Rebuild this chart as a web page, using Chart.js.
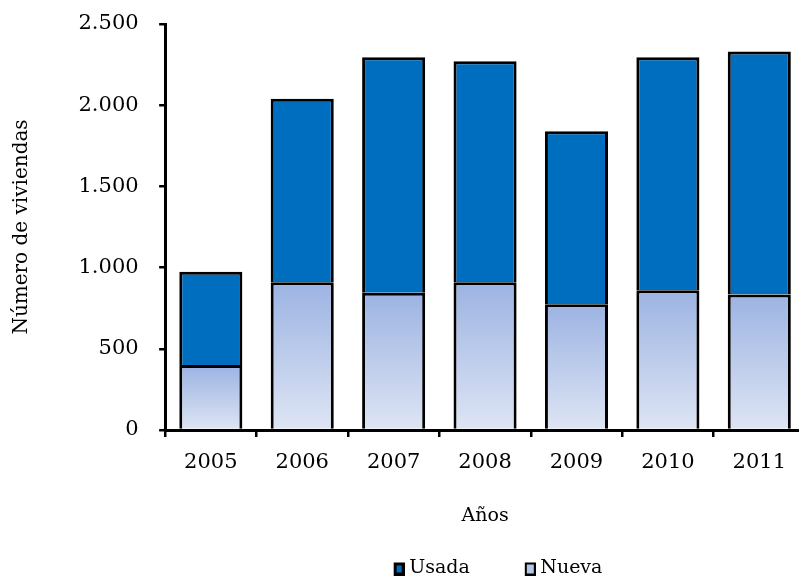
<!DOCTYPE html>
<html>
<head>
<meta charset="utf-8">
<script src="https://cdn.jsdelivr.net/npm/chart.js@4.4.1/dist/chart.umd.min.js"></script>
<style>
html, body { margin: 0; padding: 0; overflow: hidden; background: #fff; }
#wrap { position: relative; width: 808px; height: 588px; }
</style>
</head>
<body>
<div id="wrap"><canvas id="c"></canvas></div>
<script>
const categories = ['2005', '2006', '2007', '2008', '2009', '2010', '2011'];
const nueva = [400, 910, 845, 910, 775, 860, 835];
const usada = [575, 1130, 1450, 1360, 1065, 1435, 1495];
const yTickLabels = ['0', '500', '1.000', '1.500', '2.000', '2.500'];
const seriesNames = ['Nueva', 'Usada'];

const FONT = "'DejaVu Serif', 'Liberation Serif', serif";
const USADA_COLOR = '#006EBF';
const NUEVA_TOP = '#9CB3E2';
const NUEVA_BOTTOM = '#DEE5F4';

function nuevaGradient(context) {
  const chart = context.chart;
  const area = chart.chartArea;
  if (!area || context.type !== 'data' || !chart.scales.y) return '#B4C6EA';
  const y = chart.scales.y;
  const top = y.getPixelForValue(context.parsed.y);
  const bottom = y.getPixelForValue(0);
  if (!isFinite(top) || !isFinite(bottom) || top === bottom) return '#B4C6EA';
  const g = chart.ctx.createLinearGradient(0, top, 0, bottom);
  g.addColorStop(0, NUEVA_TOP);
  g.addColorStop(1, NUEVA_BOTTOM);
  return g;
}

// legend marker: small bordered square placed at the right side of a transparent strip
function legendMarker(fill, border) {
  const c = document.createElement('canvas');
  c.width = 42; c.height = 14;
  const x = c.getContext('2d');
  x.fillStyle = '#000';
  x.fillRect(31, 1, 11, 13);
  x.fillStyle = fill;
  x.fillRect(31 + border, 1 + border, 11 - 2 * border, 13 - 2 * border);
  return c;
}
const markers = [legendMarker('#B4C6EA', 2), legendMarker(USADA_COLOR, 3)];

new Chart(document.getElementById('c'), {
  type: 'bar',
  data: {
    labels: categories,
    datasets: [
      {
        label: seriesNames[0],
        data: nueva,
        backgroundColor: nuevaGradient,
        borderColor: '#000',
        borderWidth: 3,
        borderSkipped: 'start',
        inflateAmount: 0,
        barPercentage: 0.69,
        categoryPercentage: 1
      },
      {
        label: seriesNames[1],
        data: usada,
        backgroundColor: USADA_COLOR,
        borderColor: '#000',
        borderWidth: 3,
        borderSkipped: 'start',
        inflateAmount: 0,
        barPercentage: 0.69,
        categoryPercentage: 1
      }
    ]
  },
  options: {
    responsive: true,
    maintainAspectRatio: false,
    animation: false,
    layout: { padding: { top: 24, right: 3, left: 10, bottom: 0 } },
    plugins: {
      tooltip: { enabled: false },
      legend: {
        position: 'bottom',
        fullSize: false,
        reverse: true,
        labels: {
          font: { family: FONT, size: 19 },
          color: '#000',
          usePointStyle: true,
          pointStyleWidth: 32,
          padding: 29,
          generateLabels(chart) {
            const items = Chart.defaults.plugins.legend.labels.generateLabels(chart);
            items.forEach(it => {
              it.pointStyle = markers[it.datasetIndex];
              it.lineWidth = 0;
            });
            return items;
          }
        }
      }
    },
    scales: {
      x: {
        stacked: true,
        offset: true,
        grid: {
          offset: true,
          drawOnChartArea: false,
          drawTicks: true,
          tickLength: 7,
          color: '#000',
          lineWidth: 2.5
        },
        border: { color: '#000', width: 3 },
        ticks: { font: { family: FONT, size: 21 }, color: '#000', padding: 13 },
        title: {
          display: true,
          text: 'Años',
          font: { family: FONT, size: 19 },
          color: '#000',
          padding: { top: 16, bottom: 3 }
        }
      },
      y: {
        stacked: true,
        min: 0,
        max: 2500,
        afterFit(scale) { scale.paddingTop = 0; scale.paddingBottom = 0; },
        grid: {
          drawOnChartArea: false,
          drawTicks: true,
          tickLength: 6,
          color: '#000',
          lineWidth: 2.5
        },
        border: { color: '#000', width: 3 },
        ticks: {
          stepSize: 500,
          font: { family: FONT, size: 21 },
          color: '#000',
          padding: 20.5,
          callback: (v, i) => yTickLabels[i]
        },
        title: {
          display: true,
          text: 'Número de viviendas',
          font: { family: FONT, size: 20 },
          color: '#000',
          padding: { top: 0, bottom: 24 }
        }
      }
    }
  }
});
</script>
</body>
</html>
